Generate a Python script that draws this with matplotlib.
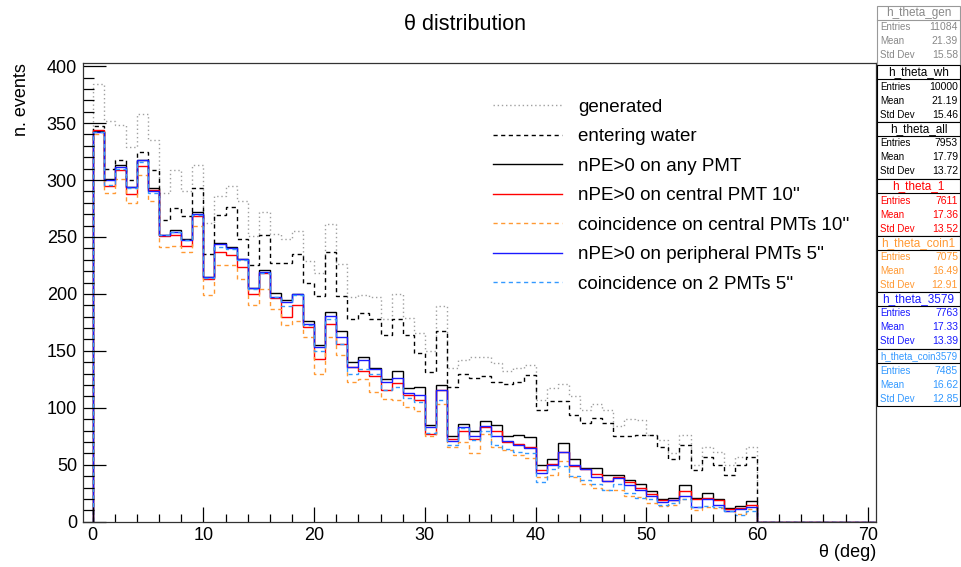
import numpy as np
import matplotlib
matplotlib.use("Agg")
import matplotlib.pyplot as plt
from matplotlib.lines import Line2D
from matplotlib.patches import Rectangle

plt.rcParams['font.family'] = ['Liberation Sans', 'DejaVu Sans']

# bin contents, 1 deg bins from 0 to 60
h_gen = [384, 352, 348, 329, 358, 335, 289, 309, 290, 313,
         262, 286, 295, 282, 251, 272, 253, 248, 255, 229,
         218, 261, 226, 197, 199, 197, 178, 200, 179, 166,
         150, 189, 135, 142, 145, 145, 139, 132, 135, 138,
         107, 117, 121, 110, 98, 103, 98, 84, 90, 89,
         76, 72, 60, 76, 50, 66, 61, 50, 57, 66]
h_wh = [347, 310, 318, 300, 325, 309, 265, 275, 268, 293,
        235, 269, 276, 248, 225, 252, 227, 227, 235, 210,
        198, 237, 198, 178, 183, 178, 164, 178, 164, 148,
        131, 167, 118, 130, 126, 128, 123, 121, 123, 129,
        98, 106, 106, 94, 87, 91, 87, 75, 75, 76,
        76, 66, 55, 67, 45, 57, 50, 41, 50, 57]
h_all = [343, 301, 313, 294, 318, 293, 252, 256, 248, 272,
         215, 245, 241, 231, 205, 221, 201, 195, 200, 176,
         155, 184, 167, 140, 145, 135, 125, 132, 117, 118,
         85, 120, 75, 86, 80, 88, 85, 75, 76, 74,
         50, 55, 69, 55, 47, 47, 41, 41, 37, 33,
         27, 20, 21, 32, 21, 25, 20, 12, 14, 18]
h_1 = [344, 295, 309, 288, 312, 291, 251, 252, 242, 268,
       213, 237, 234, 224, 200, 218, 196, 180, 190, 171,
       143, 174, 156, 136, 132, 128, 116, 122, 111, 107,
       77, 116, 73, 80, 73, 83, 80, 70, 68, 66,
       45, 51, 61, 49, 46, 42, 36, 39, 35, 30,
       24, 19, 19, 27, 20, 21, 19, 11, 12, 15]
h_coin1 = [340, 289, 301, 280, 304, 282, 241, 242, 237, 260,
           199, 225, 225, 213, 190, 204, 187, 173, 176, 162,
           130, 162, 146, 123, 125, 114, 108, 107, 101, 97,
           75, 103, 66, 70, 60, 77, 66, 63, 59, 56,
           39, 41, 53, 39, 33, 30, 28, 28, 23, 22,
           16, 14, 15, 20, 10, 13, 12, 9, 7, 11]
h_3579 = [342, 300, 311, 294, 318, 290, 252, 254, 247, 270,
          215, 244, 240, 231, 205, 219, 197, 193, 200, 174,
          153, 181, 162, 136, 142, 134, 123, 126, 113, 111,
          83, 116, 71, 83, 75, 84, 75, 71, 67, 65,
          43, 50, 61, 50, 46, 39, 36, 38, 32, 28,
          23, 17, 19, 23, 13, 20, 15, 9, 11, 13]
h_coin3579 = [342, 296, 310, 293, 316, 289, 252, 254, 247, 269,
              214, 241, 239, 230, 204, 218, 197, 189, 199, 173,
              150, 178, 156, 130, 134, 130, 116, 118, 109, 105,
              78, 107, 67, 82, 72, 80, 67, 64, 61, 60,
              35, 46, 49, 40, 37, 33, 28, 33, 25, 21,
              20, 15, 16, 20, 13, 14, 13, 9, 6, 9]

labels = ["generated", "entering water", "nPE>0 on any PMT",
          "nPE>0 on central PMT 10''", "coincidence on central PMTs 10''",
          "nPE>0 on peripheral PMTs 5''", "coincidence on 2 PMTs 5''"]
colors = ["#a0a0a0", "black", "black", "#ff0000", "#ff9933", "#1a1aff", "#3399ff"]
styles = [(0, (1, 2)), (0, (3, 2.5)), "-", "-", (0, (3, 2.5)), "-", (0, (3, 2.5))]

# stats boxes: name, entries, mean, std dev
stat_names = ["h_theta_gen", "h_theta_wh", "h_theta_all", "h_theta_1",
              "h_theta_coin1", "h_theta_3579", "h_theta_coin3579"]
stat_entries = ["11084", "10000", "7953", "7611", "7075", "7763", "7485"]
stat_means = ["21.39", "21.19", "17.79", "17.36", "16.49", "17.33", "16.62"]
stat_stds = ["15.58", "15.46", "13.72", "13.52", "12.91", "13.39", "12.85"]
stat_colors = ["#888888", "black", "black", "#ff0000", "#ff9933", "#1a1aff", "#3399ff"]

W, H = 961, 567
fig = plt.figure(figsize=(W / 100, H / 100), dpi=100)

def fx(px):
    return px / W

def fy(py):
    return 1 - py / H

ax = fig.add_axes([fx(82.5), fy(521.7), fx(876 - 82.5), (521.7 - 62.7) / H])

# histograms, padded with empty bins up to 71 deg
edges = np.arange(0, 72)
hists = [h_gen, h_wh, h_all, h_1, h_coin1, h_3579, h_coin3579]
for vals, c, ls in zip(hists, colors, styles):
    full = np.concatenate([vals, np.zeros(len(edges) - 1 - len(vals))])
    ax.stairs(full, edges, baseline=0, color=c, linestyle=ls, linewidth=1.0)

ax.set_xlim(-0.92, 70.75)
ax.set_ylim(0, 403)

ax.set_xticks(np.arange(0, 71, 10))
ax.set_xticks(np.arange(0, 71, 2), minor=True)
ax.set_yticks(np.arange(0, 401, 50))
ax.set_yticks(np.arange(0, 401, 10), minor=True)
ax.tick_params(axis="x", which="major", direction="in", length=11, width=0.9, labelsize=13, pad=4)
ax.tick_params(axis="x", which="minor", direction="in", length=5.5, width=0.9)
ax.tick_params(axis="y", which="major", direction="in", length=16.5, width=0.9, labelsize=13, pad=4)
ax.tick_params(axis="y", which="minor", direction="in", length=8, width=0.9)
for s in ax.spines.values():
    s.set_linewidth(0.9)
    s.set_color("#333333")

ax.set_xlabel("θ (deg)", loc="right", fontsize=13, labelpad=0)
ax.set_ylabel("n. events", loc="top", fontsize=13, labelpad=12)

fig.text(fx(465), fy(25), "θ distribution", ha="center", va="center", fontsize=15.5)

# legend
handles = [Line2D([], [], color=c, linestyle=ls, linewidth=1.0) for c, ls in zip(colors, styles)]
ax.legend(handles, labels, loc="upper left", bbox_to_anchor=(fx(493), fy(98.5)),
          bbox_transform=fig.transFigure, frameon=False, fontsize=13.5,
          handlelength=3.7, handletextpad=0.85, labelspacing=0.66,
          borderpad=0, borderaxespad=0)

# stats boxes on the right
box_tops = [6, 65, 122, 179, 236, 292, 349]
box_h = 57
for i in range(len(stat_names)):
    top = box_tops[i]
    bot = box_tops[i + 1] if i + 1 < len(box_tops) else top + box_h
    ec = "#999999" if i == 0 else "black"
    fig.add_artist(Rectangle((fx(877), fy(bot)), fx(960 - 877), (bot - top) / H,
                             transform=fig.transFigure, facecolor="white",
                             edgecolor=ec, linewidth=0.8))
    fig.add_artist(Line2D([fx(877), fx(960)], [fy(top + 14), fy(top + 14)],
                          transform=fig.transFigure, color=ec, linewidth=0.8))
    c = stat_colors[i]
    fs = 7 if len(stat_names[i]) > 13 else 8.5
    fig.text(fx(918.5), fy(top + 7), stat_names[i], ha="center", va="center",
             fontsize=fs, color=c)
    rows = [("Entries", stat_entries[i]), ("Mean", stat_means[i]), ("Std Dev", stat_stds[i])]
    for j, (name, val) in enumerate(rows):
        yy = fy(top + 21.5 + j * 14)
        fig.text(fx(880), yy, name, ha="left", va="center", fontsize=7, color=c)
        fig.text(fx(958), yy, val, ha="right", va="center", fontsize=7.5, color=c)

fig.savefig("out.png", dpi=100)
